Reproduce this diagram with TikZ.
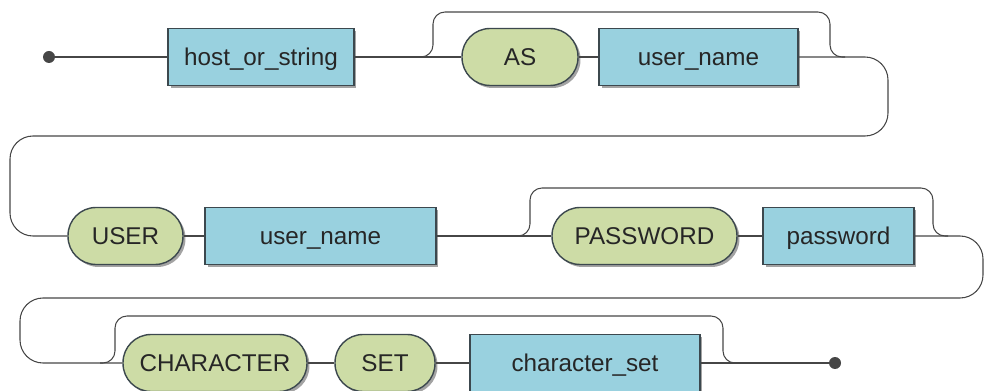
\documentclass[tikz,border=0pt]{standalone}
\usepackage{fontspec}
\setmainfont{Liberation Sans}
\usetikzlibrary{shadows}
\definecolor{ntblue}{RGB}{153,209,223}
\definecolor{tmgreen}{RGB}{205,220,166}
\definecolor{boxedge}{RGB}{60,72,78}
\definecolor{wirecol}{RGB}{70,70,70}

\begin{document}
\begin{tikzpicture}[x=0.02cm,y=-0.02cm,
        nt/.style={draw=boxedge,fill=ntblue,line width=0.8pt,minimum height=1.14cm,inner sep=0pt,
            text height=0.35cm,text depth=0pt,
            text=black!85,font=\fontsize{13.8}{16}\selectfont,
            drop shadow={shadow xshift=0.05cm,shadow yshift=-0.05cm,fill=black!60,opacity=0.6}},
        tm/.style={nt,fill=tmgreen,rounded corners=0.56cm},
        wire/.style={draw=wirecol,line width=0.6pt},
        turn/.style={wire,rounded corners=0.46cm},
        bypass/.style={wire,rounded corners=0.24cm}]
        \useasboundingbox (0,0) rectangle (984,391);
        \node[nt,minimum width=3.72cm] (host) at (261,57) {host\_or\_string};
        \node[tm,minimum width=2.32cm] (as) at (520,57) {AS};
        \node[nt,minimum width=3.98cm] (uname1) at (698.5,57) {user\_name};
        \node[tm,minimum width=2.30cm] (user) at (125.5,236) {USER};
        \node[nt,minimum width=4.62cm] (uname2) at (320.5,236) {user\_name};
        \node[tm,minimum width=3.70cm] (pwkey) at (644.5,236) {PASSWORD};
        \node[nt,minimum width=3.02cm] (pw) at (838.5,236) {password};
        \node[tm,minimum width=3.68cm] (charkey) at (215,363) {CHARACTER};
        \node[tm,minimum width=2.00cm] (setkey) at (385,363) {SET};
        \node[nt,minimum width=4.60cm] (cset) at (585,363) {character\_set};
        \coordinate (start) at (49,57);
        \coordinate (stop) at (835,363);
        \coordinate (j1) at (418,57);
        \coordinate (t1l) at (433,12);
        \coordinate (t1r) at (830,12);
        \coordinate (j2) at (845,57);
        \coordinate (j3) at (515,236);
        \coordinate (t2l) at (530,188);
        \coordinate (t2r) at (933,188);
        \coordinate (j4) at (948,236);
        \coordinate (j5) at (100,363);
        \coordinate (t3l) at (115,316);
        \coordinate (t3r) at (723,316);
        \coordinate (j6) at (737,363);
        \coordinate (r1) at (888,136);
        \coordinate (l1) at (10,136);
        \coordinate (r2) at (983,298);
        \coordinate (l2) at (20,298);
        \draw[wire] (start) -- (host.west);
        \draw[wire] (host.east) -- (as.west);
        \draw[wire] (as.east) -- (uname1.west);
        \draw[bypass] (j1) -| (t1l) -- (t1r) |- (j2);
        \draw[turn] (uname1.east) -| (r1) -- (l1) |- (user.west);
        \draw[wire] (user.east) -- (uname2.west);
        \draw[wire] (uname2.east) -- (pwkey.west);
        \draw[wire] (pwkey.east) -- (pw.west);
        \draw[bypass] (j3) -| (t2l) -- (t2r) |- (j4);
        \draw[turn] (pw.east) -| (r2) -- (l2) |- (charkey.west);
        \draw[wire] (charkey.east) -- (setkey.west);
        \draw[wire] (setkey.east) -- (cset.west);
        \draw[wire] (cset.east) -- (stop);
        \draw[bypass] (j5) -| (t3l) -- (t3r) |- (j6);
        \fill[wirecol] (start) circle (0.12cm);
        \fill[wirecol] (stop) circle (0.12cm);
    \end{tikzpicture}
\end{document}
